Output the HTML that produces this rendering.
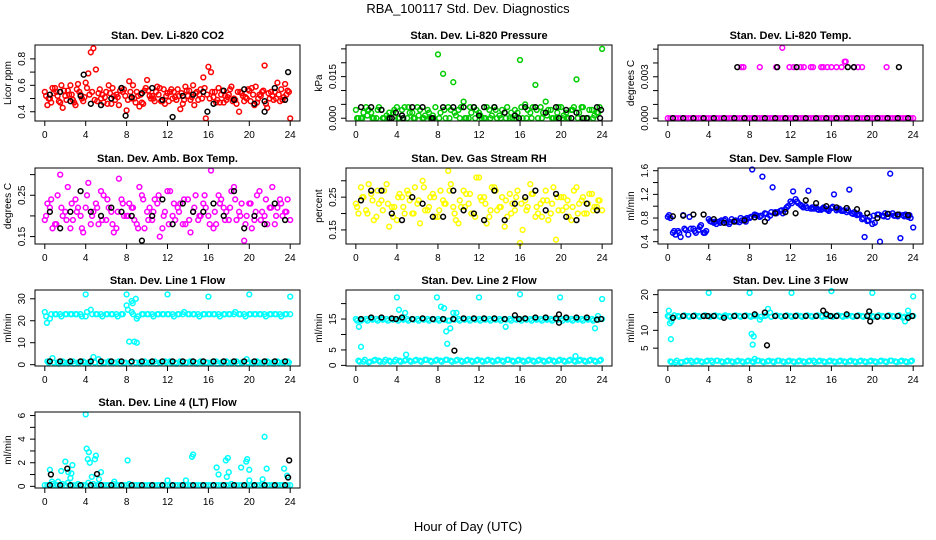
<!DOCTYPE html>
<html><head><meta charset="utf-8">
<style>
body{margin:0;background:#fff;}
svg{display:block;font-family:"Liberation Sans",sans-serif;}
</style></head>
<body>
<svg id="chart" width="936" height="540" viewBox="0 0 936 540">
<rect width="936" height="540" fill="#fff"/>
<text x="468" y="13" font-size="13" text-anchor="middle">RBA_100117  Std. Dev. Diagnostics</text>
<text x="468" y="531" font-size="13" text-anchor="middle">Hour of Day (UTC)</text>
</svg>
<script>
// shared hour grids (categories)
const HA = [0,0.5,1,1.5,2,2.5,3,3.5,4,4.5,5,5.5,6,6.5,7,7.5,8,8.5,9,9.5,10,10.5,11,11.5,12,12.5,13,13.5,14,14.5,15,15.5,16,16.5,17,17.5,18,18.5,19,19.5,20,20.5,21,21.5,22,22.5,23,23.5,24];
const HB = [0.25,0.75,1.25,1.75,2.25,2.75,3.25,3.75,4.25,4.75,5.25,5.75,6.25,6.75,7.25,7.75,8.25,8.75,9.25,9.75,10.25,10.75,11.25,11.75,12.25,12.75,13.25,13.75,14.25,14.75,15.25,15.75,16.25,16.75,17.25,17.75,18.25,18.75,19.25,19.75,20.25,20.75,21.25,21.75,22.25,22.75,23.25,23.75];
const HC = [0.125,0.625,1.125,1.625,2.125,2.625,3.125,3.625,4.125,4.625,5.125,5.625,6.125,6.625,7.125,7.625,8.125,8.625,9.125,9.625,10.125,10.625,11.125,11.625,12.125,12.625,13.125,13.625,14.125,14.625,15.125,15.625,16.125,16.625,17.125,17.625,18.125,18.625,19.125,19.625,20.125,20.625,21.125,21.625,22.125,22.625,23.125,23.625];
const HD = [0.375,0.875,1.375,1.875,2.375,2.875,3.375,3.875,4.375,4.875,5.375,5.875,6.375,6.875,7.375,7.875,8.375,8.875,9.375,9.875,10.375,10.875,11.375,11.875,12.375,12.875,13.375,13.875,14.375,14.875,15.375,15.875,16.375,16.875,17.375,17.875,18.375,18.875,19.375,19.875,20.375,20.875,21.375,21.875,22.375,22.875,23.375,23.875];
const HK = [0.5,1.5,2.5,3.5,4.5,5.5,6.5,7.5,8.5,9.5,10.5,11.5,12.5,13.5,14.5,15.5,16.5,17.5,18.5,19.5,20.5,21.5,22.5,23.5];
const xTicks = [0,4,8,12,16,20,24];

// Panel 1 CO2
const co2A = [0.55,0.50,0.58,0.47,0.52,0.60,0.45,0.53,0.62,0.85,0.72,0.50,0.55,0.46,0.53,0.58,0.41,0.50,0.55,0.47,0.64,0.52,0.59,0.48,0.54,0.50,0.57,0.46,0.52,0.60,0.49,0.66,0.74,0.51,0.58,0.47,0.53,0.50,0.40,0.48,0.56,0.45,0.53,0.75,0.50,0.55,0.48,0.61,0.35];
const co2B = [0.45,0.58,0.52,0.43,0.56,0.49,0.61,0.48,0.69,0.88,0.54,0.47,0.60,0.52,0.45,0.57,0.63,0.50,0.44,0.56,0.52,0.48,0.58,0.46,0.55,0.51,0.42,0.59,0.49,0.54,0.57,0.35,0.70,0.47,0.53,0.49,0.59,0.46,0.54,0.50,0.58,0.47,0.55,0.43,0.52,0.62,0.49,0.56];
const co2C = [0.52,0.47,0.55,0.60,0.49,0.53,0.57,0.50,0.58,0.55,0.48,0.53,0.46,0.58,0.51,0.55,0.49,0.60,0.52,0.46,0.56,0.50,0.53,0.57,0.48,0.55,0.52,0.49,0.56,0.45,0.53,0.58,0.50,0.55,0.47,0.52,0.57,0.49,0.55,0.51,0.48,0.59,0.52,0.46,0.55,0.50,0.57,0.53];
const co2D = [0.50,0.54,0.48,0.56,0.53,0.47,0.55,0.51,0.53,0.49,0.57,0.51,0.54,0.49,0.56,0.52,0.55,0.47,0.53,0.58,0.50,0.55,0.48,0.52,0.57,0.49,0.54,0.56,0.51,0.55,0.50,0.53,0.55,0.49,0.56,0.51,0.48,0.55,0.52,0.57,0.53,0.50,0.56,0.54,0.49,0.53,0.51,0.55];
const co2K = [0.53,0.55,0.48,0.52,0.46,0.45,0.50,0.58,0.51,0.54,0.58,0.49,0.36,0.52,0.53,0.55,0.46,0.56,0.49,0.57,0.46,0.48,0.58,0.49];
const co2XH = [3.8,23.8,7.9,15.9,21.5];
const co2XV = [0.68,0.70,0.37,0.40,0.40];

// Panel 2 Pressure
const prA = [0.003,0,0.004,0.002,0,0.003,0.001,0,0.004,0.003,0,0.002,0.004,0,0.003,0.001,0.023,0.016,0.004,0.013,0.003,0.006,0,0.004,0.002,0,0.003,0.004,0.001,0.002,0,0.003,0.021,0.005,0.002,0.012,0.004,0.006,0.003,0,0.004,0.002,0.003,0.014,0.004,0,0.003,0.002,0.025];
const prB = [0,0.002,0.003,0,0.004,0,0.002,0.003,0,0.004,0.002,0,0.003,0.001,0,0.004,0.002,0,0.003,0.001,0.004,0,0.002,0.003,0,0.004,0.001,0,0.003,0.004,0,0.002,0,0.003,0.004,0,0.002,0.003,0,0.004,0.001,0,0.004,0.002,0,0.003,0.001,0.004];
const prC = [0,0,0.001,0,0.003,0,0,0.002,0,0,0.004,0,0.001,0,0.002,0,0,0.003,0,0.002,0,0,0.004,0,0.001,0,0,0.003,0,0,0.002,0,0.004,0,0,0.003,0,0.001,0,0.002,0,0,0.003,0,0.004,0,0,0.002];
const prK = [0.004,0.004,0.003,0,0.001,0.004,0.004,0,0.004,0.004,0.004,0.004,0.004,0.004,0.002,0.001,0.004,0.004,0.002,0.004,0.003,0.002,0,0.004];
const prXH = [3.3,3.9,4.6,7.4,12.0,15.9,19.8,21.0,22.1,23.8,23.9];
const prXV = [0,0.002,0,0,0.001,0,0,0,0,0,0.003];

// Panel 3 Temp
const tpA = [0,0,0,0,0,0,0,0,0,0,0,0,0,0,0,0,0,0,0,0,0,0,0,0,0,0,0,0,0,0,0,0,0,0,0,0,0,0,0,0,0,0,0,0,0,0,0,0,0];
const tpB = [0,0,0,0,0,0,0,0,0,0,0,0,0,0,0,0,0,0,0,0,0,0,0,0,0,0,0,0,0,0,0,0,0,0,0,0,0,0,0,0,0,0,0,0,0,0,0,0];
const tpXH = [7.2,7.4,9.0,10.6,11.2,11.9,12.3,13.0,13.3,14.0,14.2,15.0,15.2,15.6,16.0,16.5,17.0,17.3,17.4,18.2,18.6,19.0,21.4];
const tpXV = [0.0037,0.0037,0.0037,0.0037,0.0051,0.0037,0.0037,0.0037,0.0037,0.0037,0.0037,0.0037,0.0037,0.0037,0.0037,0.0037,0.0037,0.0041,0.0041,0.0037,0.0037,0.0037,0.0037];
const tpK = [0,0,0,0,0,0,0,0,0,0,0,0,0,0,0,0,0,0,0,0,0,0,0,0];
const tpKXH = [6.8,10.7,12.6,17.6,18.2,22.6];
const tpKXV = [0.0037,0.0037,0.0037,0.0037,0.0037,0.0037];

// Panel 4 Amb box temp
const abA = [0.19,0.22,0.18,0.30,0.21,0.17,0.24,0.20,0.22,0.18,0.23,0.26,0.19,0.21,0.17,0.24,0.20,0.22,0.18,0.25,0.21,0.19,0.23,0.17,0.26,0.20,0.22,0.18,0.24,0.21,0.19,0.23,0.20,0.17,0.25,0.22,0.19,0.27,0.21,0.14,0.23,0.19,0.26,0.20,0.22,0.18,0.24,0.21,0.19];
const abB = [0.23,0.17,0.25,0.20,0.27,0.19,0.22,0.16,0.28,0.21,0.18,0.25,0.22,0.16,0.29,0.20,0.23,0.19,0.27,0.17,0.22,0.24,0.15,0.21,0.26,0.19,0.23,0.18,0.16,0.25,0.20,0.22,0.31,0.18,0.24,0.21,0.26,0.19,0.23,0.20,0.17,0.25,0.21,0.18,0.27,0.22,0.20,0.24];
const abC = [0.20,0.24,0.18,0.22,0.19,0.23,0.21,0.17,0.25,0.20,0.22,0.19,0.24,0.18,0.21,0.23,0.20,0.22,0.17,0.24,0.19,0.21,0.25,0.20,0.18,0.23,0.21,0.24,0.19,0.22,0.20,0.25,0.18,0.21,0.23,0.19,0.22,0.24,0.20,0.18,0.23,0.21,0.19,0.24,0.22,0.20,0.23,0.21];
const abK = [0.21,0.17,0.21,0.26,0.21,0.20,0.22,0.21,0.20,0.14,0.20,0.24,0.18,0.23,0.21,0.21,0.23,0.20,0.26,0.17,0.20,0.18,0.23,0.19];

// Panel 5 RH
const rhA = [0.23,0.28,0.21,0.26,0.19,0.24,0.29,0.22,0.18,0.25,0.27,0.20,0.23,0.30,0.21,0.26,0.19,0.24,0.33,0.22,0.17,0.27,0.23,0.20,0.31,0.25,0.19,0.28,0.22,0.16,0.26,0.21,0.11,0.24,0.29,0.19,0.23,0.27,0.20,0.12,0.25,0.22,0.18,0.28,0.24,0.20,0.26,0.22,0.21];
const rhB = [0.20,0.25,0.29,0.18,0.23,0.27,0.16,0.22,0.26,0.20,0.24,0.28,0.17,0.21,0.25,0.19,0.27,0.23,0.29,0.18,0.22,0.26,0.20,0.31,0.24,0.17,0.28,0.21,0.25,0.19,0.23,0.27,0.15,0.22,0.26,0.20,0.24,0.18,0.28,0.21,0.25,0.19,0.27,0.23,0.20,0.26,0.22,0.24];
const rhC = [0.22,0.25,0.20,0.24,0.27,0.21,0.23,0.19,0.25,0.22,0.26,0.20,0.24,0.28,0.22,0.25,0.21,0.23,0.27,0.20,0.24,0.22,0.26,0.19,0.25,0.23,0.21,0.27,0.22,0.24,0.20,0.25,0.23,0.21,0.26,0.22,0.19,0.24,0.23,0.25,0.21,0.24,0.22,0.20,0.25,0.23,0.21,0.24];
const rhK = [0.24,0.27,0.27,0.20,0.18,0.25,0.23,0.19,0.19,0.27,0.21,0.20,0.18,0.27,0.18,0.23,0.25,0.27,0.21,0.26,0.19,0.18,0.23,0.21];

// Panel 6 Sample flow
const sfA = [0.82,0.55,0.58,0.85,0.52,0.62,0.60,0.55,0.78,0.72,0.74,0.76,0.70,0.75,0.73,0.78,0.80,0.86,0.82,0.88,0.84,0.90,0.92,0.95,1.08,1.12,1.02,1.00,0.96,0.98,0.94,0.95,0.97,0.93,0.92,0.90,0.88,0.85,0.78,0.75,0.70,0.86,0.84,0.82,0.88,0.83,0.85,0.82,0.64];
const sfB = [0.80,0.52,0.48,0.60,0.62,0.55,0.68,0.58,0.74,0.70,0.76,0.72,0.78,0.74,0.76,0.80,1.62,0.84,1.50,0.80,1.32,0.90,0.88,1.00,1.25,1.05,0.98,1.26,0.96,0.94,0.98,0.92,1.20,0.96,0.93,1.28,0.90,0.86,0.48,0.82,0.72,0.40,0.88,1.55,0.84,0.46,0.86,0.80];
const sfC = [0.85,0.58,0.55,0.62,0.82,0.58,0.65,0.55,0.75,0.74,0.72,0.78,0.73,0.76,0.80,0.74,0.82,0.85,0.84,0.87,0.90,0.88,0.93,0.98,1.05,1.08,1.00,0.97,0.98,0.95,0.96,0.94,0.99,0.95,0.92,0.93,0.87,0.86,0.80,0.76,0.84,0.86,0.83,0.87,0.84,0.86,0.83,0.85];
const sfK = [0.83,0.84,0.86,0.86,0.78,0.72,0.74,0.76,0.81,0.74,0.88,0.90,0.88,1.10,1.05,1.00,0.98,0.97,0.95,0.88,0.80,0.87,0.86,0.85];

// Panel 7 Line 1
const l1A = [24,21,23,23,23,23,23,23,22,25,23,23,23,23,23,23,27,29,21,23,23,23,23,23,23,23,23,23,23,23,23,23,23,23,23,23,23,23,23,23,23,23,23,23,23,23,23,23,23];
const l1B = [1.5,3,1,1.5,1,1.5,1,1.5,1,3.5,2.5,1,1.5,1,1.5,1,10.5,10.5,1,1.5,1,1.5,1,1.5,1.5,1,1.5,1,1.5,1,1.5,1,1,1.5,1,1.5,1,1.5,1,2.5,1,1.5,1,1.5,1,1.5,1,1.5];
const l1C = [22,23,23,22,23,23,23,22,24,23,23,22,23,23,22,23,25,23,22,23,23,22,23,23,23,22,23,24,23,23,22,23,23,23,22,23,23,24,23,22,23,23,23,22,23,23,22,23];
const l1D = [1,1,0.5,1,1,0.5,1,1,1,1,0.5,1,1,1,0.5,1,1,1,0.5,1,1,0.5,1,1,1,0.5,1,1,1,0.5,1,1,1,0.5,1,1,1,0.5,1,1,0.5,1,1,1,0.5,1,1,1];
const l1XH = [4,8,12,16,20,24,8.6,8.9,9.0,0.2,8.5];
const l1XV = [32,32,32,31,32,31,28,30,10,19,24];
const l1K = [1.5,1.5,1.5,1.5,1.5,1.5,1.5,1.5,1.5,1.5,1.5,1.5,1.5,1.5,1.5,1.5,1.5,1.5,1.5,1.5,1.5,1.5,1.5,1.5];

// Panel 8 Line 2
const l2A = [15,14.5,15,15,15,15,15,15,15,15,15,15,15,15,15,15,15,15,14.5,15,15,15,15,15,15,15,15,15,15,15,15,15,15,15,15,15,15,15,15,15,15,15,15,15,15,15,15,15,15];
const l2B = [1.5,1.2,1,1.5,1.5,1.2,1.5,1.3,1.5,1.5,1.5,1.5,1.5,1.8,1.5,1.5,1.5,1.8,1.5,1.5,1.5,1.5,1.5,1.5,1.5,1.5,1.5,1.5,1.5,1.8,1.5,1.5,1.5,1.5,1.5,1.5,1.5,1.5,1.5,1.5,1.5,1.5,1.5,1.5,1.5,1.5,1.5,1.5];
const l2C = [14.5,14.8,14.5,14.8,14.5,14.8,14.5,14.8,14.5,14.8,14.5,14.8,14.5,14.8,14.5,14.8,14.5,14.8,14.5,14.8,14.5,14.8,14.5,14.8,14.5,14.8,14.5,14.8,14.5,14.8,14.5,14.8,14.5,14.8,14.5,14.8,14.5,14.8,14.5,14.8,14.5,14.8,14.5,14.8,14.5,14.8,14.5,14.8];
const l2D = [1.2,1.8,1.2,1.8,1.2,1.8,1.2,1.8,1.2,1.8,1.2,1.8,1.2,1.8,1.2,1.8,1.2,1.8,1.2,1.8,1.2,1.8,1.2,1.8,1.2,1.8,1.2,1.8,1.2,1.8,1.2,1.8,1.2,1.8,1.2,1.8,1.2,1.8,1.2,1.8,1.2,1.8,1.2,1.8,1.2,1.8,1.2,1.8];
const l2XH = [0.3,0.5,4.0,4.2,4.8,4.9,7.9,8.3,8.6,8.8,8.9,9.2,9.5,9.8,12.0,14.6,16.0,19.9,21.4,23.3,23.6,24.0];
const l2XV = [12.5,6,22,18,17,3.5,22,19,18.5,11,7,12,17,17,22,12.5,23,22,3,12,16,21.5];
const l2K = [15,15.5,15.5,15.2,15.5,15,15.2,15,15,15,15.2,15.2,15.2,15.2,15,16.2,15.2,15.5,15.5,15.2,15.5,15.5,15.5,14.8];
const l2KXH = [9.6,19.8,19.8,3.9,15.9,23.9];
const l2KXV = [4.8,13.8,16.5,15,15,15];

// Panel 9 Line 3
const l3A = [14,13.5,14,14,14,14,14,14,14,14,14,14,14,14,14,14,14,14,13,14,15,14,14,14,14,14,14,14,14,14,14,14,14,14,14,14,14,14,14,14,14,14,14,14,14,14,13.5,14,14];
const l3B = [1.3,1,1,1.3,1.5,1.3,1.3,1.3,1.5,1.5,1.3,1.3,1.3,1.3,1.3,1.3,1.3,1.5,1.3,1.3,1.3,1.5,1.3,1.3,1.3,1.3,1.3,1.3,1.5,1.3,1.3,1.3,1.3,1.3,1.3,1.3,1.3,1.3,1.3,1.3,1.3,1.3,1.3,1.5,1.3,1.3,1.3,1.3];
const l3C = [13.8,14.2,13.8,14.2,13.8,14.2,13.8,14.2,13.8,14.2,13.8,14.2,13.8,14.2,13.8,14.2,13.8,14.2,13.8,14.2,13.8,14.2,13.8,14.2,13.8,14.2,13.8,14.2,13.8,14.2,13.8,14.2,13.8,14.2,13.8,14.2,13.8,14.2,13.8,14.2,13.8,14.2,13.8,14.2,13.8,14.2,13.8,14.2];
const l3D = [1.1,1.5,1.1,1.5,1.1,1.5,1.1,1.5,1.1,1.5,1.1,1.5,1.1,1.5,1.1,1.5,1.1,1.5,1.1,1.5,1.1,1.5,1.1,1.5,1.1,1.5,1.1,1.5,1.1,1.5,1.1,1.5,1.1,1.5,1.1,1.5,1.1,1.5,1.1,1.5,1.1,1.5,1.1,1.5,1.1,1.5,1.1,1.5];
const l3XH = [0.1,0.2,0.3,0.35,4.0,8.0,8.2,8.4,8.3,8.5,12.1,16.0,20.0,23.2,23.5,24.0,9.8];
const l3XV = [15.5,12,7.5,12.5,20.5,20.5,9,8.3,6,2,20.5,21,20.5,12.5,15.5,19.5,16];
const l3K = [13.5,14,14,14,14,13.5,14,14,14.5,15,14,14,14,14,14,14.5,14,14.5,14,14,13.8,14,14,13.5];
const l3KXH = [9.7,15.2,19.8,19.7,3.9,15.9,23.9];
const l3KXV = [5.8,15.5,12.5,15.3,14,14,14];

// Panel 10 Line 4
const l4A = [0.1,0.1,0.1,0.1,0.1,0.1,0.1,0.1,0.1,0.1,0.1,0.1,0.1,0.1,0.1,0.1,0.1,0.1,0.1,0.1,0.1,0.1,0.1,0.1,0.1,0.1,0.1,0.1,0.1,0.1,0.1,0.1,0.1,0.1,0.1,0.1,0.1,0.1,0.1,0.1,0.1,0.1,0.1,0.1,0.1,0.1,0.1,0.1,0.1];
const l4B = [0.1,0.2,0.1,0.2,0.3,0.1,0.2,0.1,0.3,0.2,0.1,0.1,0.1,0.2,0.1,0.1,0.2,0.1,0.1,0.1,0.1,0.1,0.1,0.1,0.1,0.1,0.1,0.1,0.1,0.1,0.1,0.1,0.1,0.1,0.1,0.1,0.2,0.1,0.1,0.1,0.1,0.1,0.2,0.1,0.1,0.1,0.1,0.1];
const l4XH = [0.5,0.7,1.3,1.6,2.0,2.3,2.5,2.6,2.7,4.0,4.1,4.2,4.3,4.4,4.6,4.9,5.0,5.3,5.5,6.8,8.1,12.0,13.8,14.4,14.5,16.8,17.0,17.7,17.8,17.9,18.0,19.2,19.7,19.8,20.0,20.0,21.3,21.5,21.7,23.4,23.7];
const l4XV = [1.4,0.4,0.4,1.3,2.1,1.2,0.7,1.1,1.8,6.1,3.2,2.3,2.9,2.0,0.8,2.3,2.6,0.6,1.2,0.4,2.2,0.5,0.5,2.5,2.7,1.6,1.0,2.2,0.8,2.4,1.2,1.6,2.1,2.3,1.4,0.5,0.6,4.2,1.5,1.5,0.9];
const l4K = [0.1,0.1,0.1,0.1,0.1,0.1,0.1,0.1,0.1,0.1,0.1,0.1,0.1,0.1,0.1,0.1,0.1,0.1,0.1,0.1,0.1,0.1,0.1,0.1];
const l4KXH = [0.6,2.2,5.1,23.8,23.9];
const l4KXV = [1.0,1.5,1.05,0.75,2.2];

const NS = 'http://www.w3.org/2000/svg';
const svg = document.getElementById('chart');
function mk(tag, attrs, parent){ const e=document.createElementNS(NS,tag); for(const k in attrs) e.setAttribute(k,attrs[k]); (parent||svg).appendChild(e); return e; }

const COLS = [[35,300],[346,612],[658,923]];
const ROWS = [45,168,290,412];
const BH = 76;
const XMIN=-0.96, XMAX=24.96;

function panel(p){
  const [L,R]=COLS[p.col], T=ROWS[p.row], B=T+BH;
  const g = mk('g',{});
  
  
  const xs = h => L + (h-XMIN)/(XMAX-XMIN)*(R-L);
  const ys = v => B - (v-p.ymin)/(p.ymax-p.ymin)*BH;
  const t = mk('text',{x:(L+R)/2,y:T-6,'font-size':11,'font-weight':'bold','text-anchor':'middle'},g);
  t.textContent = p.title;
  
  
  p.series.forEach(s=>{
    const n=Math.min(s.h.length,s.v.length);
    for(let i=0;i<n;i++){
      const c=mk('circle',{cx:xs(s.h[i]).toFixed(1),cy:ys(s.v[i]).toFixed(1),r:2.4,fill:'none',stroke:s.c,'stroke-width':1.5},g);
      
      
    }
  });
  const box = mk('rect',{x:L,y:T,width:R-L,height:BH,fill:'none',stroke:'#000','stroke-width':1},g);
  
  
  xTicks.forEach(h=>{
    mk('line',{x1:xs(h),x2:xs(h),y1:B,y2:B+5,stroke:'#000'},g);
    const tl=mk('text',{x:xs(h),y:B+17,'font-size':10,'text-anchor':'middle'},g);
    tl.textContent=h;
    
    
  });
  p.yticks.forEach((v,i)=>{
    const y=ys(v);
    mk('line',{x1:L-5,x2:L,y1:y,y2:y,stroke:'#000'},g);
    if(p.ylabels[i]){
      const tl=mk('text',{x:L-10,y:y,'font-size':10,'text-anchor':'middle',transform:`rotate(-90 ${L-10} ${y})`},g);
      tl.textContent=p.ylabels[i];
      
      
    }
  });
  const yl=mk('text',{x:L-24,y:(T+B)/2,'font-size':10,'text-anchor':'middle',transform:`rotate(-90 ${L-24} ${(T+B)/2})`},g);
  yl.textContent=p.ylab;
  
  
}

const RED='#ff0000',GRN='#00cc00',MAG='#ff00ff',YEL='#ffff00',BLU='#0000ff',CYN='#00ffff',BLK='#000000';
const panels = [
 {name:'co2-panel',col:0,row:0,title:'Stan. Dev. Li-820 CO2',ylab:'Licor ppm',ymin:0.33,ymax:0.905,
  yticks:[0.4,0.5,0.6,0.7,0.8],ylabels:['0.4','','0.6','','0.8'],
  series:[{h:HA,v:co2A,c:RED},{h:HB,v:co2B,c:RED},{h:HC,v:co2C,c:RED},{h:HD,v:co2D,c:RED},{h:HK,v:co2K,c:BLK},{h:co2XH,v:co2XV,c:BLK}]},
 {name:'pressure-panel',col:1,row:0,title:'Stan. Dev. Li-820 Pressure',ylab:'kPa',ymin:-0.001,ymax:0.0264,
  yticks:[0,0.005,0.01,0.015,0.02,0.025],ylabels:['0.000','','','0.015','',''],
  series:[{h:HA,v:prA,c:GRN},{h:HB,v:prB,c:GRN},{h:HC,v:prC,c:GRN},{h:HK,v:prK,c:BLK},{h:prXH,v:prXV,c:BLK}]},
 {name:'temp-panel',col:2,row:0,title:'Stan. Dev. Li-820 Temp.',ylab:'degrees C',ymin:-0.0002,ymax:0.0053,
  yticks:[0,0.001,0.002,0.003,0.004,0.005],ylabels:['0.000','','','0.003','',''],
  series:[{h:HA,v:tpA,c:MAG},{h:HB,v:tpB,c:MAG},{h:tpXH,v:tpXV,c:MAG},{h:HK,v:tpK,c:BLK},{h:tpKXH,v:tpKXV,c:BLK}]},
 {name:'amb-box-temp-panel',col:0,row:1,title:'Stan. Dev. Amb. Box Temp.',ylab:'degrees C',ymin:0.132,ymax:0.316,
  yticks:[0.15,0.2,0.25,0.3],ylabels:['0.15','','0.25',''],
  series:[{h:HA,v:abA,c:MAG},{h:HB,v:abB,c:MAG},{h:HC,v:abC,c:MAG},{h:HK,v:abK,c:BLK}]},
 {name:'rh-panel',col:1,row:1,title:'Stan. Dev. Gas Stream RH',ylab:'percent',ymin:0.107,ymax:0.339,
  yticks:[0.15,0.2,0.25,0.3],ylabels:['0.15','','0.25',''],
  series:[{h:HA,v:rhA,c:YEL},{h:HB,v:rhB,c:YEL},{h:HC,v:rhC,c:YEL},{h:HK,v:rhK,c:BLK}]},
 {name:'sample-flow-panel',col:2,row:1,title:'Stan. Dev. Sample Flow',ylab:'ml/min',ymin:0.361,ymax:1.646,
  yticks:[0.4,0.6,0.8,1.0,1.2,1.4,1.6],ylabels:['0.4','','0.8','','1.2','','1.6'],
  series:[{h:HA,v:sfA,c:BLU},{h:HB,v:sfB,c:BLU},{h:HC,v:sfC,c:BLU},{h:HK,v:sfK,c:BLK}]},
 {name:'line1-flow-panel',col:0,row:2,title:'Stan. Dev. Line 1 Flow',ylab:'ml/min',ymin:-0.6,ymax:34,
  yticks:[0,10,20,30],ylabels:['0','10','20','30'],
  series:[{h:HA,v:l1A,c:CYN},{h:HB,v:l1B,c:CYN},{h:HC,v:l1C,c:CYN},{h:HD,v:l1D,c:CYN},{h:l1XH,v:l1XV,c:CYN},{h:HK,v:l1K,c:BLK}]},
 {name:'line2-flow-panel',col:1,row:2,title:'Stan. Dev. Line 2 Flow',ylab:'ml/min',ymin:-0.2,ymax:24.4,
  yticks:[0,5,10,15,20],ylabels:['0','5','','15',''],
  series:[{h:HA,v:l2A,c:CYN},{h:HB,v:l2B,c:CYN},{h:HC,v:l2C,c:CYN},{h:HD,v:l2D,c:CYN},{h:l2XH,v:l2XV,c:CYN},{h:HK,v:l2K,c:BLK},{h:l2KXH,v:l2KXV,c:BLK}]},
 {name:'line3-flow-panel',col:2,row:2,title:'Stan. Dev. Line 3 Flow',ylab:'ml/min',ymin:0,ymax:21.3,
  yticks:[5,10,15,20],ylabels:['5','10','','20'],
  series:[{h:HA,v:l3A,c:CYN},{h:HB,v:l3B,c:CYN},{h:HC,v:l3C,c:CYN},{h:HD,v:l3D,c:CYN},{h:l3XH,v:l3XV,c:CYN},{h:HK,v:l3K,c:BLK},{h:l3KXH,v:l3KXV,c:BLK}]},
 {name:'line4-flow-panel',col:0,row:3,title:'Stan. Dev. Line 4 (LT) Flow',ylab:'ml/min',ymin:-0.14,ymax:6.3,
  yticks:[0,1,2,3,4,5,6],ylabels:['0','','2','','4','','6'],
  series:[{h:HA,v:l4A,c:CYN},{h:HB,v:l4B,c:CYN},{h:l4XH,v:l4XV,c:CYN},{h:HK,v:l4K,c:BLK},{h:l4KXH,v:l4KXV,c:BLK}]}
];
panels.forEach(panel);
</script>
</body></html>
